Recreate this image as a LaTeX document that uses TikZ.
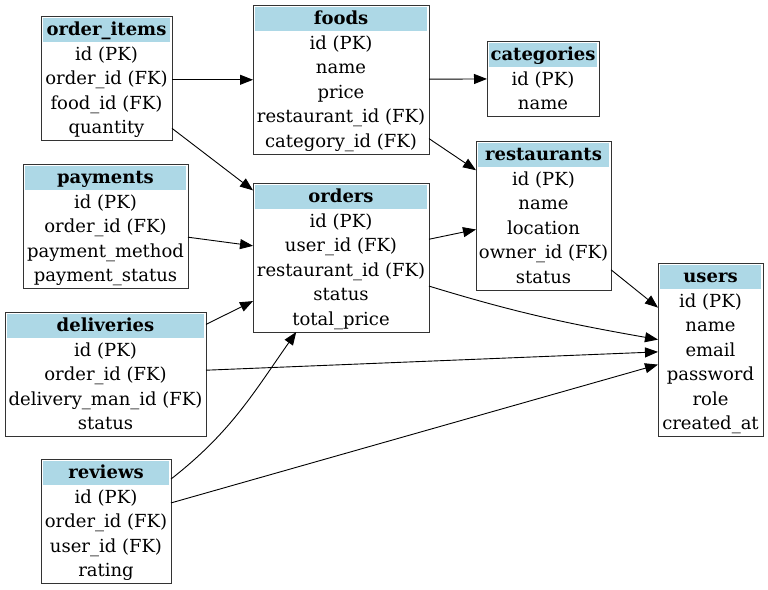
\documentclass[tikz,border=0pt]{standalone}
\usepackage{fontspec}
\setmainfont{DejaVu Serif}
\usetikzlibrary{arrows.meta}
\definecolor{hdrblue}{HTML}{ADD8E6}
\tikzset{
  tblbox/.style={draw=black!80, line width=0.9pt, fill=white, inner sep=0pt, outer sep=0pt, anchor=north west},
  hdrfill/.style={fill=hdrblue},
  txt/.style={anchor=base, inner sep=0pt, font=\fontsize{18}{21}\selectfont},
  rel/.style={draw=black, line width=0.9pt, -{Triangle[length=13pt,width=10pt]}},
}
% #1 name, #2 x, #3 y, #4 width, #5 rows, #6 title, #7 row list
\newcommand\ertable[7]{%
  \node[tblbox, minimum width=#4pt, minimum height={26.5pt+24.5pt*#5}] (#1) at (#2,#3) {};
  \fill[hdrfill] ([shift={(2pt,-2pt)}]#1.north west) rectangle ([shift={(-2pt,-26pt)}]#1.north east);
  \node[txt] (#1-h) at ([yshift=-19.5pt]#1.north) {\textbf{#6}};
  \foreach \rtxt [count=\ri] in {#7} {
    \node[txt] (#1-\ri) at ([yshift={-44pt-24.5pt*(\ri-1)}]#1.north) {\rtxt};
  }
}
\begin{document}
\begin{tikzpicture}[x=1pt, y=-1pt]
\useasboundingbox (0,0) rectangle (768,589);

\ertable{orderitems}{41}{16}{131}{4}{order\_items}{id (PK), order\_id (FK), food\_id (FK), quantity}
\ertable{foods}{253}{5}{176}{5}{foods}{id (PK), name, price, restaurant\_id (FK), category\_id (FK)}
\ertable{categories}{487}{41}{112}{2}{categories}{id (PK), name}
\ertable{restaurants}{476}{141}{135}{5}{restaurants}{id (PK), name, location, owner\_id (FK), status}
\ertable{payments}{23}{164}{165}{4}{payments}{id (PK), order\_id (FK), payment\_method, payment\_status}
\ertable{orders}{253}{183}{176}{5}{orders}{id (PK), user\_id (FK), restaurant\_id (FK), status, total\_price}
\ertable{users}{658}{263}{105}{6}{users}{id (PK), name, email, password, role, created\_at}
\ertable{deliveries}{5}{312}{201}{4}{deliveries}{id (PK), order\_id (FK), delivery\_man\_id (FK), status}
\ertable{reviews}{41}{459}{130}{4}{reviews}{id (PK), order\_id (FK), user\_id (FK), rating}

\draw[rel] (orderitems.east |- orderitems-2) -- (foods.west |- orderitems-2);
\draw[rel] (orderitems) -- (orders);
\draw[rel] (foods) -- (categories);
\draw[rel] (foods) -- (restaurants);
\draw[rel] (payments) -- (orders);
\draw[rel] (orders) -- (restaurants);
\draw[rel] (orders.-18) to[out=-17, in=170] (users.169);
\draw[rel] (restaurants) -- (users);
\draw[rel] (deliveries) -- (orders);
\draw[rel] (deliveries) -- (users);
\draw[rel] (reviews.33) to[out=38, in=235] (orders.-121);
\draw[rel] (reviews) -- (users);
\end{tikzpicture}
\end{document}
